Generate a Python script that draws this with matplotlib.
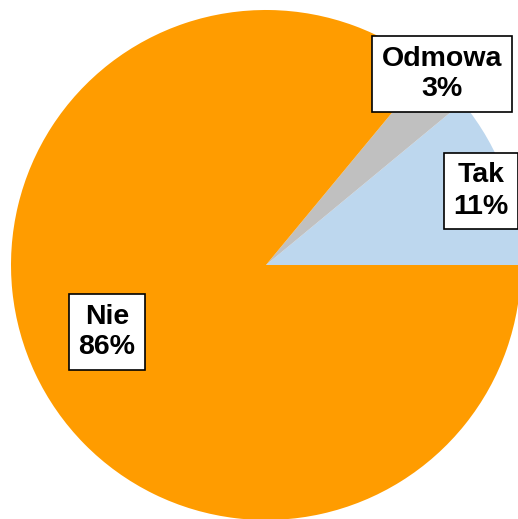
import matplotlib
matplotlib.use("Agg")
import matplotlib.pyplot as plt

labels = ["Tak", "Odmowa", "Nie"]
shares = [11, 3, 86]
colors = ["#BDD7EE", "#C0C0C0", "#FF9C00"]
label_pos = [(481, 328), (442, 445), (107, 187)]  # pixel coords, y up

W, H = 518, 519
fig = plt.figure(figsize=(W / 100, H / 100), dpi=100)
ax = fig.add_axes([0, 0, 1, 1])

ax.pie(shares, colors=colors, startangle=0, counterclock=True,
       center=(266, 254), radius=255, frame=True,
       wedgeprops=dict(linewidth=0))
ax.set_xlim(0, W)
ax.set_ylim(0, H)
ax.set_aspect("equal")
ax.axis("off")

for lab, val, (x, y) in zip(labels, shares, label_pos):
    ax.text(x, y, f"{lab}\n{val}%", ha="center", va="center",
            fontsize=20.5, fontweight="bold", family="Liberation Sans",
            linespacing=1.25,
            bbox=dict(boxstyle="square,pad=0.33", fc="white", ec="black", lw=1.2))

fig.savefig("out.png", dpi=100)
